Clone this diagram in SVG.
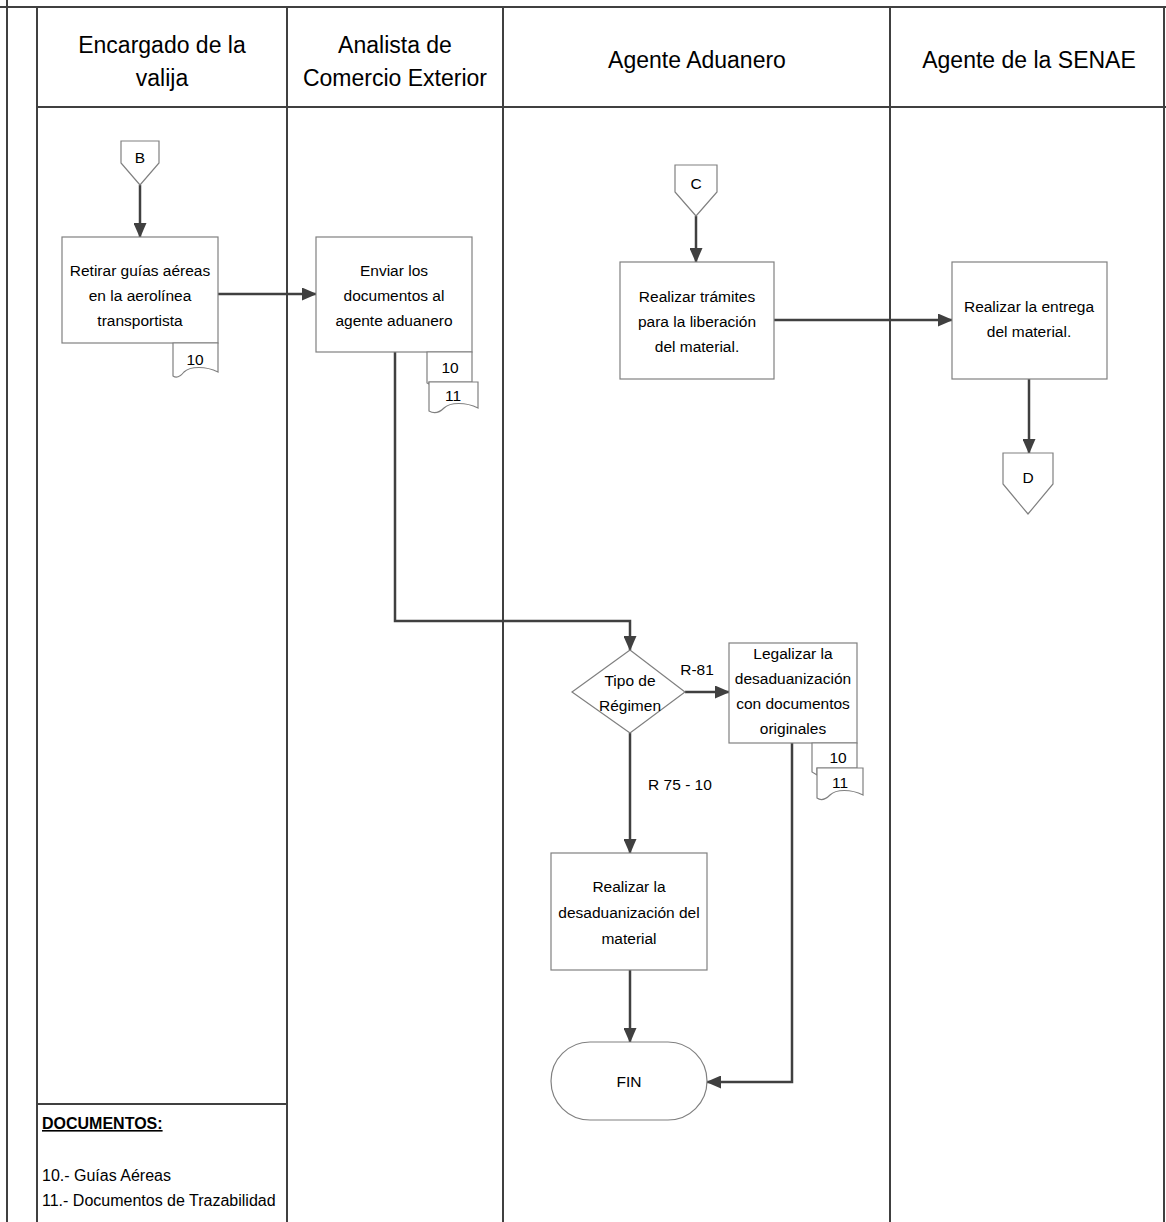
<svg xmlns="http://www.w3.org/2000/svg" width="1166" height="1222" viewBox="0 0 1166 1222">
<defs>
<marker id="ah" markerWidth="15" markerHeight="13" refX="14" refY="6.5" orient="auto" markerUnits="userSpaceOnUse" viewBox="0 0 15 13">
<path d="M0,0 L15,6.5 L0,13 z" fill="#404040"/>
</marker>
<style>
.lane{stroke:#404040;stroke-width:2;fill:none}
.box{fill:#fff;stroke:#808080;stroke-width:1.2}
.conn{stroke:#404040;stroke-width:2.5;fill:none}
.hd{font-family:"Liberation Sans",Arial,sans-serif;font-size:23px;fill:#000;text-anchor:middle}
.t{font-family:"Liberation Sans",Arial,sans-serif;font-size:15.5px;fill:#000;text-anchor:middle}
.lg{font-family:"Liberation Sans",Arial,sans-serif;font-size:16px;fill:#000}
</style>
</defs>
<rect width="1166" height="1222" fill="#fff"/>
<g id="lanes">
<line class="lane" x1="0" y1="7" x2="1166" y2="7"/>
<line class="lane" x1="7" y1="0" x2="7" y2="1222"/>
<line class="lane" x1="37" y1="7" x2="37" y2="1222"/>
<line class="lane" x1="287" y1="7" x2="287" y2="1222"/>
<line class="lane" x1="503" y1="7" x2="503" y2="1222"/>
<line class="lane" x1="890" y1="7" x2="890" y2="1222"/>
<line class="lane" x1="1164" y1="7" x2="1164" y2="1222"/>
<line class="lane" x1="37" y1="107" x2="1166" y2="107"/>
<line class="lane" x1="37" y1="1104" x2="287" y2="1104"/>
<text class="hd" x="162" y="53">Encargado de la</text>
<text class="hd" x="162" y="86">valija</text>
<text class="hd" x="395" y="53">Analista de</text>
<text class="hd" x="395" y="86">Comercio Exterior</text>
<text class="hd" x="697" y="68">Agente Aduanero</text>
<text class="hd" x="1029" y="68">Agente de la SENAE</text>
</g>
<g id="connectors">
<line class="conn" x1="140" y1="185" x2="140" y2="237" marker-end="url(#ah)"/>
<line class="conn" x1="218" y1="294" x2="316" y2="294" marker-end="url(#ah)"/>
<polyline class="conn" points="395,352 395,621 630,621 630,650" marker-end="url(#ah)"/>
<line class="conn" x1="696" y1="216" x2="696" y2="262" marker-end="url(#ah)"/>
<line class="conn" x1="774" y1="320" x2="952" y2="320" marker-end="url(#ah)"/>
<line class="conn" x1="1029" y1="379" x2="1029" y2="453" marker-end="url(#ah)"/>
<line class="conn" x1="685" y1="692" x2="729" y2="692" marker-end="url(#ah)"/>
<line class="conn" x1="630" y1="733" x2="630" y2="853" marker-end="url(#ah)"/>
<line class="conn" x1="630" y1="970" x2="630" y2="1042" marker-end="url(#ah)"/>
<polyline class="conn" points="792,743 792,1082 707,1082" marker-end="url(#ah)"/>
<text class="t" x="697" y="675">R-81</text>
<text class="t" x="680" y="790">R 75 - 10</text>
</g>
<g id="B">
<path class="box" d="M121,141 H159 V163 L140,185 L121,163 Z"/>
<text class="t" x="140" y="163">B</text>
</g>
<g id="retirar">
<rect class="box" x="62" y="237" width="156" height="106"/>
<text class="t" x="140" y="276">Retirar guías aéreas</text>
<text class="t" x="140" y="301">en la aerolínea</text>
<text class="t" x="140" y="326">transportista</text>
<path class="box" d="M173,343 H218 V372 C206,366 190,366 184,372 C180,377 176,378 173,376 Z"/>
<text class="t" x="195" y="365">10</text>
</g>
<g id="enviar">
<rect class="box" x="316" y="237" width="156" height="115"/>
<text class="t" x="394" y="276">Enviar los</text>
<text class="t" x="394" y="301">documentos al</text>
<text class="t" x="394" y="326">agente aduanero</text>
<path class="box" d="M427,352 H472 V382 H429 V384 L427,383 Z"/>
<text class="t" x="450" y="373">10</text>
<path class="box" d="M429,382 H478 V408 C466,402 450,402 444,408 C439,413 434,414 429,411 Z"/>
<text class="t" x="453" y="401">11</text>
</g>
<g id="C">
<path class="box" d="M675,165 H717 V192 L696,216 L675,192 Z"/>
<text class="t" x="696" y="189">C</text>
</g>
<g id="tramites">
<rect class="box" x="620" y="262" width="154" height="117"/>
<text class="t" x="697" y="302">Realizar trámites</text>
<text class="t" x="697" y="327">para la liberación</text>
<text class="t" x="697" y="352">del material.</text>
</g>
<g id="entrega">
<rect class="box" x="952" y="262" width="155" height="117"/>
<text class="t" x="1029" y="312">Realizar la entrega</text>
<text class="t" x="1029" y="337">del material.</text>
</g>
<g id="D">
<path class="box" d="M1003,453 H1053 V484 L1028,514 L1003,484 Z"/>
<text class="t" x="1028" y="483">D</text>
</g>
<g id="decision">
<path class="box" d="M630,650 L685,692 L630,733 L572,692 Z"/>
<text class="t" x="630" y="686">Tipo de</text>
<text class="t" x="630" y="711">Régimen</text>
</g>
<g id="legalizar">
<rect class="box" x="729" y="643" width="128" height="100"/>
<text class="t" x="793" y="659">Legalizar la</text>
<text class="t" x="793" y="684">desaduanización</text>
<text class="t" x="793" y="709">con documentos</text>
<text class="t" x="793" y="734">originales</text>
<path class="box" d="M812,743 H857 V768 H817 V775 L812,772 Z"/>
<text class="t" x="838" y="763">10</text>
<path class="box" d="M817,768 H863 V795 C851,789 836,789 830,795 C825,800 821,801 817,798 Z"/>
<text class="t" x="840" y="788">11</text>
</g>
<g id="desaduanizacion">
<rect class="box" x="551" y="853" width="156" height="117"/>
<text class="t" x="629" y="892">Realizar la</text>
<text class="t" x="629" y="918">desaduanización del</text>
<text class="t" x="629" y="944">material</text>
</g>
<g id="fin">
<rect class="box" x="551" y="1042" width="156" height="78" rx="39" ry="39"/>
<text class="t" x="629" y="1087">FIN</text>
</g>
<g id="legend">
<text class="lg" x="42" y="1129" font-size="15px" font-weight="bold" text-decoration="underline">DOCUMENTOS:</text>
<text class="lg" x="42" y="1181">10.- Guías Aéreas</text>
<text class="lg" x="42" y="1206">11.- Documentos de Trazabilidad</text>
</g>
</svg>
